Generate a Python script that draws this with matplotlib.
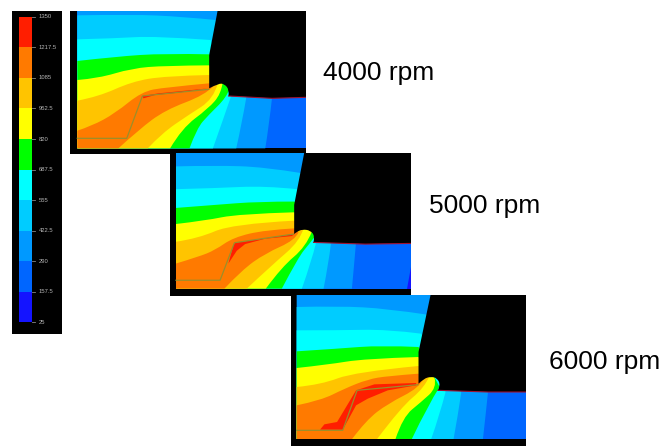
import matplotlib
matplotlib.use("Agg")
import matplotlib.pyplot as plt
from matplotlib.patches import PathPatch
from matplotlib.path import Path
import numpy as np

W, H = 663, 446

# Colour scale
levels = [25, 157.5, 290, 422.5, 555, 687.5, 820, 952.5, 1085, 1217.5, 1350]
level_labels = ["25", "157.5", "290", "422.5", "555", "687.5", "820", "952.5", "1085", "1217.5", "1350"]
band_colors = ["#1414ff", "#0066ff", "#0099ff", "#00ccff", "#00ffff", "#00ff00",
               "#ffff00", "#ffc400", "#ff7a00", "#ff1e00"]

# Isotherms: (upper part, left to tool face), (lower part, nose to bottom)
speeds = ["4000 rpm", "5000 rpm", "6000 rpm"]

iso_4000 = [
    ([(37, 33), (457, 33)], [(620, 295), (612, 370), (600, 445)]),
    ([(37, 46), (200, 43), (350, 50), (452, 60)], [(543, 293), (530, 370), (513, 445)]),
    ([(37, 118), (150, 115), (270, 108), (436, 120)], [(497, 290), (475, 355), (443, 445)]),
    ([(37, 183), (150, 170), (300, 160), (432, 163)], [(492, 268), (484, 292), (430, 345), (395, 385), (373, 445)]),
    ([(37, 240), (100, 235), (200, 205), (300, 197), (432, 196)], [(472, 250), (467, 282), (430, 325), (350, 385), (315, 445)]),
    ([(37, 302), (100, 290), (200, 245), (300, 228), (432, 225)], [(458, 250), (445, 297), (370, 345), (290, 400), (248, 445)]),
    ([(37, 392), (80, 378), (150, 340), (230, 275), (300, 262), (432, 250)], [(445, 258), (420, 285), (300, 330), (220, 390), (160, 445)]),
]
iso_5000 = [
    ([(33, 10), (417, 10)], [(572, 280), (566, 350), (560, 415)]),
    ([(33, 50), (150, 47), (300, 52), (408, 70)], [(497, 282), (490, 340), (475, 415)]),
    ([(33, 118), (150, 115), (300, 108), (395, 118)], [(452, 280), (440, 330), (410, 415)]),
    ([(33, 174), (150, 165), (280, 155), (388, 155)], [(450, 258), (432, 282), (400, 320), (350, 415)]),
    ([(33, 222), (120, 212), (220, 192), (388, 187)], [(440, 245), (422, 290), (350, 350), (302, 415)]),
    ([(33, 275), (100, 265), (200, 222), (388, 212)], [(415, 235), (405, 272), (320, 345), (245, 415)]),
    ([(33, 340), (100, 320), (150, 300), (205, 262), (300, 240), (388, 235)], [(400, 247), (390, 270), (300, 310), (230, 360), (178, 415)]),
]
iso_6000 = [
    ([(27, 9), (428, 9)], [(600, 302), (593, 370), (585, 441)]),
    ([(27, 45), (150, 42), (300, 50), (418, 68)], [(520, 302), (510, 370), (497, 441)]),
    ([(27, 115), (150, 115), (300, 112), (400, 125)], [(473, 300), (455, 370), (430, 441)]),
    ([(27, 178), (150, 170), (280, 160), (392, 165)], [(455, 285), (420, 340), (372, 441)]),
    ([(27, 228), (120, 218), (230, 200), (392, 195)], [(440, 258), (447, 287), (400, 330), (345, 375), (323, 441)]),
    ([(27, 285), (100, 278), (200, 240), (392, 222)], [(425, 252), (410, 287), (340, 345), (268, 441)]),
    ([(27, 340), (100, 325), (170, 290), (240, 262), (300, 252), (392, 245)], [(405, 262), (395, 287), (300, 335), (235, 385), (193, 441)]),
]

red_4000 = [(232, 288), (280, 280), (430, 265), (340, 278), (270, 285), (235, 295)]
red_5000 = [(210, 278), (388, 252), (380, 258), (300, 266), (240, 282), (215, 302), (190, 340), (205, 285)]
red_6000 = [(97, 413), (110, 397), (148, 390), (205, 295), (260, 277), (385, 273), (385, 280), (300, 295), (240, 320), (205, 340), (165, 413)]

chip_4000 = [(37, 415), (185, 415), (232, 288), (430, 268)]
chip_5000 = [(33, 390), (165, 390), (208, 278), (385, 252)]
chip_6000 = [(27, 415), (165, 415), (208, 295), (390, 278)]

# Tool outline: straight flanks and rounded nose
flank_4000 = [(432, 265), (432, 165), (457, 33), (722, 33), (722, 292), (620, 295), (490, 288)]
nose_4000 = [(490, 288), (492, 270), (478, 252), (460, 250), (432, 265)]
flank_5000 = [(387, 252), (387, 165), (417, 10), (737, 10), (737, 280), (600, 282), (445, 277)]
nose_5000 = [(445, 277), (449, 258), (435, 241), (412, 238), (395, 245), (387, 252)]
flank_6000 = [(392, 275), (392, 180), (428, 9), (714, 9), (714, 300), (600, 300), (450, 295)]
nose_6000 = [(450, 295), (458, 280), (448, 258), (428, 254), (408, 260), (392, 275)]

deep_5000 = [(737, 350), (737, 415), (725, 415)]

fig = plt.figure(figsize=(W / 100, H / 100), dpi=100, facecolor="white")
plt.rcParams["font.family"] = ["Liberation Sans", "DejaVu Sans"]


def pixel_axes(x0, y0, x1, y1):
    ax = fig.add_axes([x0 / W, 1 - y1 / H, (x1 - x0) / W, (y1 - y0) / H])
    ax.set_facecolor("black")
    ax.set_xticks([])
    ax.set_yticks([])
    for s in ax.spines.values():
        s.set_visible(False)
    return ax


def smooth_run(points, first=False):
    # quadratic bezier pieces through the midpoints of the read points
    verts = [points[0]]
    codes = [Path.MOVETO if first else Path.LINETO]
    if len(points) == 2:
        return verts + [points[1]], codes + [Path.LINETO]
    for a, b in zip(points[1:-1], points[2:]):
        verts += [a, ((a[0] + b[0]) / 2, (a[1] + b[1]) / 2)]
        codes += [Path.CURVE3, Path.CURVE3]
    verts[-1] = points[-1]
    return verts, codes


def closed_patch(runs, color):
    verts, codes = [], []
    for i, run in enumerate(runs):
        v, c = smooth_run(run, first=i == 0)
        verts += v
        codes += c
    verts.append(verts[0])
    codes.append(Path.CLOSEPOLY)
    return PathPatch(Path(verts, codes), facecolor=color, edgecolor="none", lw=0)


def draw_panel(box, xlim, ylim, domain, isotherms, red, chip, flank, nose):
    ax = pixel_axes(*box)
    left, right, top, bottom = domain
    ax.fill([left, right, right, left], [top, top, bottom, bottom], color=band_colors[1], lw=0)
    # nested hotter-than regions, coolest first
    for i, (upper, lower) in enumerate(isotherms):
        ax.add_patch(closed_patch([upper, lower, [lower[-1], (left, bottom)]], band_colors[i + 2]))
    ax.fill(*zip(*red), color=band_colors[9], lw=0)
    ax.plot(*zip(*chip), color="#9a8f2a", lw=0.9)
    straight = [list(seg) for seg in zip(flank, flank[1:])]
    ax.add_patch(closed_patch(straight + [nose], "black"))
    # thin rim along the machined surface
    ax.plot(*zip(*flank[-3:]), color="#a01030", lw=0.8)
    ax.set_xlim(*xlim)
    ax.set_ylim(*ylim)
    return ax


# Colour bar
cax = pixel_axes(12, 11, 62, 334)
cax.bar(0.5, np.diff(levels), bottom=levels[:-1], width=1, color=band_colors, lw=0)
for lev, lab in zip(levels, level_labels):
    cax.plot([1, 1.25], [lev, lev], color="#888888", lw=0.6)
    cax.text(1.5, lev, lab, color="#b5b5b5", fontsize=4.2, va="center", ha="left")
cax.set_xlim(-0.54, 3.3)
cax.set_ylim(25 - 1325 * 12 / 313, 1350 + 1325 * 6 / 313)

draw_panel((70, 11, 306, 154), (15, 722), (462, 33), (37, 722, 33, 445), iso_4000, red_4000, chip_4000, flank_4000, nose_4000)
ax2 = draw_panel((170, 153, 411, 296), (15, 737), (437, 10), (33, 737, 10, 415), iso_5000, red_5000, chip_5000, flank_5000, nose_5000)
ax2.fill(*zip(*deep_5000), color=band_colors[0], lw=0)
draw_panel((291, 295, 526, 446), (10, 714), (462, 9), (27, 714, 9, 441), iso_6000, red_6000, chip_6000, flank_6000, nose_6000)

for label, x, y in zip(speeds, [323, 429, 549], [73, 206, 362]):
    fig.text(x / W, 1 - y / H, label, fontsize=19, color="black", va="center", ha="left")

fig.savefig("out.png", dpi=100)
